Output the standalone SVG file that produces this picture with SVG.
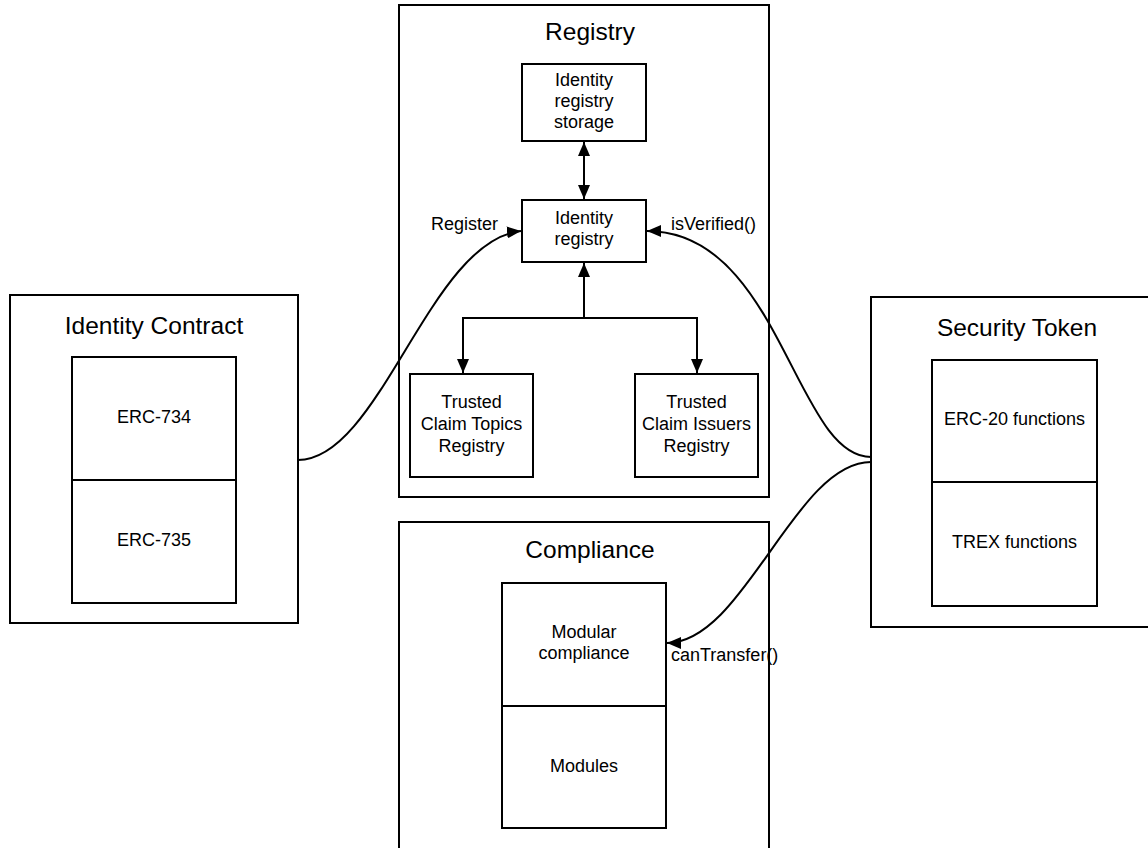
<svg xmlns="http://www.w3.org/2000/svg" width="1148" height="848" viewBox="0 0 1148 848">
<defs>
<style>
.box{fill:#fff;stroke:#000;stroke-width:2}
.t{font-family:"Liberation Sans",Arial,sans-serif;font-size:18px;fill:#000;text-anchor:middle}
.lbl{font-family:"Liberation Sans",Arial,sans-serif;font-size:18px;fill:#000}
.title{font-family:"Liberation Sans",Arial,sans-serif;font-size:24.5px;fill:#000;text-anchor:middle}
.c{fill:none;stroke:#000;stroke-width:2}
</style>
<marker id="ah" markerUnits="userSpaceOnUse" markerWidth="16" markerHeight="14" refX="14" refY="6" orient="auto-start-reverse" viewBox="0 0 16 14">
<path d="M0,0 L14,6 L0,12 z" fill="#000"/>
</marker>
</defs>
<rect width="1148" height="848" fill="#fff"/>

<g id="registry">
<rect class="box" x="399" y="5" width="370" height="492"/>
<text class="title" x="590" y="40">Registry</text>
</g>
<g id="identity-registry-storage">
<rect class="box" x="522" y="64" width="124" height="77"/>
<text class="t" x="584" y="86">Identity</text>
<text class="t" x="584" y="107">registry</text>
<text class="t" x="584" y="128">storage</text>
</g>
<g id="identity-registry">
<rect class="box" x="522" y="200" width="124" height="62"/>
<text class="t" x="584" y="224">Identity</text>
<text class="t" x="584" y="245">registry</text>
</g>
<g id="trusted-claim-topics">
<rect class="box" x="410" y="374" width="123" height="103"/>
<text class="t" x="471.5" y="408">Trusted</text>
<text class="t" x="471.5" y="430">Claim Topics</text>
<text class="t" x="471.5" y="452">Registry</text>
</g>
<g id="trusted-claim-issuers">
<rect class="box" x="635" y="374" width="123" height="103"/>
<text class="t" x="696.5" y="408">Trusted</text>
<text class="t" x="696.5" y="430">Claim Issuers</text>
<text class="t" x="696.5" y="452">Registry</text>
</g>

<g id="identity-contract">
<rect class="box" x="10" y="295" width="288" height="328"/>
<text class="title" x="154" y="334">Identity Contract</text>
<rect class="box" x="72" y="357" width="164" height="123"/>
<text class="t" x="154" y="423">ERC-734</text>
<rect class="box" x="72" y="480" width="164" height="123"/>
<text class="t" x="154" y="546">ERC-735</text>
</g>

<g id="security-token">
<rect class="box" x="871" y="297" width="292" height="330"/>
<text class="title" x="1017" y="336">Security Token</text>
<rect class="box" x="932" y="360" width="165" height="122"/>
<text class="t" x="1014.5" y="425">ERC-20 functions</text>
<rect class="box" x="932" y="482" width="165" height="124"/>
<text class="t" x="1014.5" y="548">TREX functions</text>
</g>

<g id="compliance">
<rect class="box" x="399" y="522" width="370" height="340"/>
<text class="title" x="590" y="558">Compliance</text>
<rect class="box" x="502" y="583" width="164" height="123"/>
<text class="t" x="584" y="638">Modular</text>
<text class="t" x="584" y="659">compliance</text>
<rect class="box" x="502" y="706" width="164" height="122"/>
<text class="t" x="584" y="772">Modules</text>
</g>

<g id="connectors">
<path class="c" d="M584,142 V199" marker-start="url(#ah)" marker-end="url(#ah)"/>
<path class="c" d="M584,318 V263" marker-end="url(#ah)"/>
<path class="c" d="M463,373 V318 H697 V373" marker-start="url(#ah)" marker-end="url(#ah)"/>
<path class="c" d="M298,460 C380,460 430,240 521,231" marker-end="url(#ah)"/>
<path class="c" d="M871,457 C795,457 780,231 647,231" marker-end="url(#ah)"/>
<path class="c" d="M871,462 C795,462 744,643 667,643" marker-end="url(#ah)"/>
<text class="lbl" x="431" y="230">Register</text>
<text class="lbl" x="671" y="230">isVerified()</text>
<text class="lbl" x="671" y="661">canTransfer()</text>
</g>
</svg>
